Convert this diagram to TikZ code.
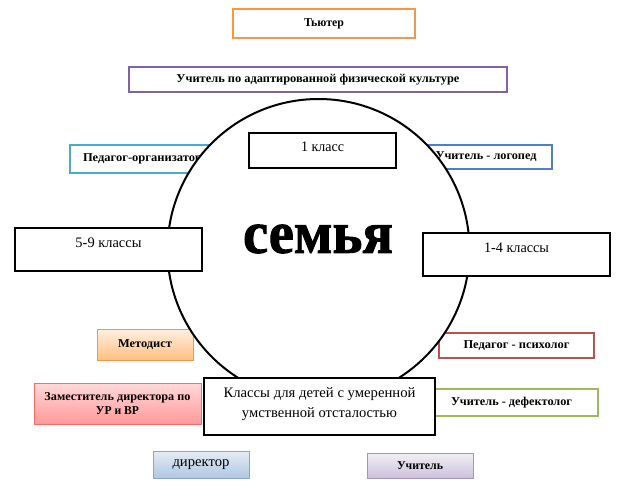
\documentclass[tikz,border=0pt]{standalone}
\usepackage{fontspec}
\usepackage{graphicx}
\setmainfont{Liberation Serif}
\newfontfamily\heavyfont[FakeBold=1.5]{Liberation Serif Bold}
\newcommand{\tw}[2]{\resizebox{#1pt}{\height}{#2}}
\definecolor{cOrange}{HTML}{F79646}
\definecolor{cPurple}{HTML}{8064A2}
\definecolor{cCyan}{HTML}{4BACC6}
\definecolor{cBlue}{HTML}{4F81BD}
\definecolor{cRed}{HTML}{C0504D}
\definecolor{cGreen}{HTML}{9BBB59}
\tikzset{
  lbl/.style={font=\fontsize{12}{14}\selectfont\bfseries},
  nrm/.style={font=\fontsize{14.5}{20}\selectfont},
  cbox/.style={draw=#1, line width=2pt, fill=white, inner sep=0pt, align=center},
  kbox/.style={draw=black, line width=2.5pt, fill=white, inner sep=0pt, align=center},
  gbox/.style n args={3}{draw=#1, line width=1pt, top color=#2, bottom color=#3, inner sep=0pt, align=center},
}
\begin{document}
\begin{tikzpicture}[x=1pt,y=-1pt]
\useasboundingbox (0,0) rectangle (624,488);
% coloured role boxes (behind the circle)
\node[cbox=cOrange, lbl, minimum width=182pt, minimum height=29pt] (tutor) at (324,23.5) {\tw{40}{Тьютер}};
\node[cbox=cPurple, lbl, minimum width=378pt, minimum height=25pt] (afk) at (318,79.5) {\tw{283}{Учитель по адаптированной физической культуре}};
\node[cbox=cCyan, lbl, minimum width=145pt, minimum height=28pt] (org) at (142.5,159) {\tw{119}{Педагог-организатор}};
\node[cbox=cBlue, lbl, minimum width=132pt, minimum height=24pt] (logo) at (486,157) {\tw{101}{Учитель - логопед}};
\node[gbox={cOrange}{orange!12!white}{orange!50!white}, lbl, minimum width=96pt, minimum height=31pt] (metod) at (145,344.5) {\tw{54}{Методист}};
\node[cbox=cRed, lbl, minimum width=155pt, minimum height=25pt] (psych) at (516.5,345.5) {\tw{106}{Педагог - психолог}};
\node[gbox={red!60!white}{red!15!white}{red!40!white}, lbl, minimum width=167pt, minimum height=41pt] (zam) at (117.5,403.5) {\tw{146}{Заместитель директора по}\\\tw{43}{УР и ВР}};
\node[cbox=cGreen, lbl, minimum width=173pt, minimum height=27pt] (defect) at (511.5,402.5) {\tw{121}{Учитель - дефектолог}};
\node[gbox={cBlue!70!white}{cBlue!15!white}{cBlue!45!white}, nrm, minimum width=96pt, minimum height=27pt] (dir) at (201,464.5) {\tw{57}{директор}};
\node[gbox={cPurple!70!white}{cPurple!10!white}{cPurple!40!white}, lbl, minimum width=106pt, minimum height=25pt] (teach) at (420,465.5) {\tw{46}{Учитель}};
% family circle
\node[draw=black, line width=2pt, fill=white, circle, minimum size=302pt, inner sep=0pt] (fam) at (318.5,250) {};
\node[font=\fontsize{60}{64}\heavyfont] (semya) at (318,239) {\tw{150}{семья}};
% class boxes (in front of the circle)
\node[kbox, nrm, minimum width=147pt, text height=18pt, text depth=17pt] (k1) at (322.5,150.5) {\tw{43}{1 класс}};
\node[kbox, nrm, minimum width=187pt, text height=19pt, text depth=24pt] (k59) at (108.5,249.5) {\tw{66}{5-9 классы}};
\node[kbox, nrm, minimum width=187pt, text height=19pt, text depth=24pt] (k14) at (516.5,254.5) {\tw{65}{1-4 классы}};
\node[kbox, nrm, minimum width=231pt, minimum height=57pt] (kmod) at (319.5,406.5) {\tw{192}{Классы для детей с умеренной}\\\tw{155}{умственной отсталостью}\\[-12pt]};
\end{tikzpicture}
\end{document}
